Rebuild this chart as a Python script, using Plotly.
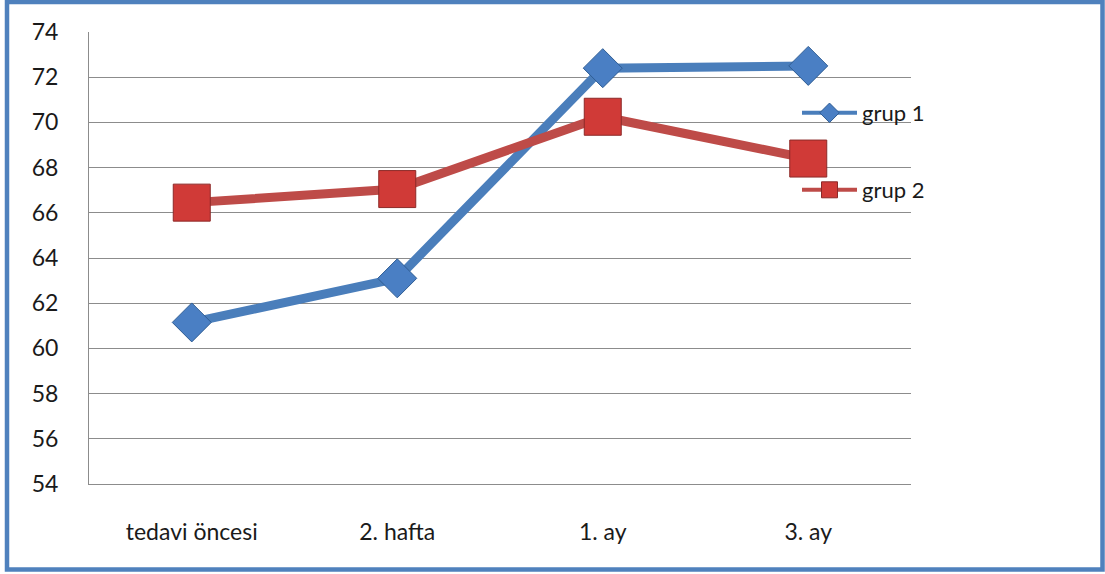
import plotly.graph_objects as go

categories = ["tedavi öncesi", "2. hafta", "1. ay", "3. ay"]
grup1 = [61.15, 63.1, 72.4, 72.5]
grup2 = [66.45, 67.05, 70.25, 68.4]
y_ticks = [54, 56, 58, 60, 62, 64, 66, 68, 70, 72, 74]

W, H = 1105, 574
L, R, T, B = 89, 911, 32, 484
pw, ph = R - L, B - T

def px(x):
    return (x - L) / pw

def py(y):
    return (B - y) / ph

FONT = "Lato"
TXT = "#1a1a1a"
BLUE = "#4a7ebb"
RED = "#be4b48"
FS = 23

fig = go.Figure()
fig.add_trace(go.Scatter(
    x=categories, y=grup1, name="grup 1", mode="lines+markers",
    line=dict(color=BLUE, width=9),
    marker=dict(symbol="diamond", size=30, color="#4a7fc4",
                line=dict(color="#2f5d94", width=1)),
    showlegend=False,
))
fig.add_trace(go.Scatter(
    x=categories, y=grup2, name="grup 2", mode="lines+markers",
    line=dict(color=RED, width=9),
    marker=dict(symbol="square", size=37, color="#d03a37",
                line=dict(color="#8c2a28", width=1)),
    showlegend=False,
))
# legend entries (same styling, thinner as in the original legend)
fig.add_trace(go.Scatter(
    x=[None], y=[None], name="grup 1", mode="lines+markers",
    line=dict(color=BLUE, width=4),
    marker=dict(symbol="diamond", size=15, color="#4a7fc4",
                line=dict(color="#2f5d94", width=1)),
    legend="legend",
))
fig.add_trace(go.Scatter(
    x=[None], y=[None], name="grup 2", mode="lines+markers",
    line=dict(color=RED, width=4),
    marker=dict(symbol="square", size=19, color="#d03a37",
                line=dict(color="#8c2a28", width=1)),
    legend="legend2",
))

leg = dict(xanchor="left", yanchor="middle", bgcolor="rgba(0,0,0,0)",
           itemwidth=55, font=dict(family=FONT, size=FS - 1, color=TXT))

fig.update_layout(
    width=W, height=H,
    margin=dict(l=L, r=W - R, t=T, b=H - B),
    paper_bgcolor="white", plot_bgcolor="white",
    font=dict(family=FONT, size=FS, color=TXT),
    showlegend=True,
    legend=dict(x=px(797), y=py(113), **leg),
    legend2=dict(x=px(797), y=py(190), **leg),
    xaxis=dict(
        type="category", range=[-0.5, 3.5], showgrid=False,
        showline=True, linecolor="#8c8c8c", linewidth=1,
        zeroline=False, ticks="",
        ticklabelstandoff=27,
        tickfont=dict(family=FONT, size=FS, color=TXT),
    ),
    yaxis=dict(
        range=[54, 74], tickvals=y_ticks, showgrid=True,
        gridcolor="#8c8c8c", gridwidth=1,
        showline=True, linecolor="#8c8c8c", linewidth=1,
        zeroline=False, ticks="", ticklabelstandoff=25,
        tickfont=dict(family=FONT, size=FS, color=TXT),
    ),
    shapes=[dict(
        type="rect", xref="paper", yref="paper",
        x0=px(7), x1=px(1102.5), y0=py(569.5), y1=py(2),
        line=dict(color="#4f81bd", width=4.5), layer="above",
    )],
)

fig.write_html("out.html")
